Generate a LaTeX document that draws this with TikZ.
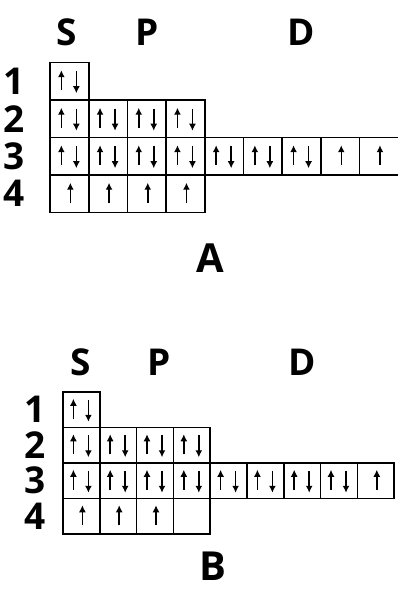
\documentclass[tikz,border=0pt]{standalone}
\usepackage{fontspec}
\setmainfont{Open Sans}
\usetikzlibrary{positioning,arrows.meta}

\begin{document}
\begin{tikzpicture}[
    x=1pt, y=1pt,
    orb/.style={rectangle, draw, line width=1.6pt, minimum width=38.7pt, minimum height=37.5pt, inner sep=0pt},
    orbB/.style={orb, minimum width=36.8pt, minimum height=35.5pt},
    el/.style={-{Latex[length=7pt,width=7pt]}, line width=1.5pt},
    lbl/.style={inner sep=0pt, font=\fontsize{37}{40}\selectfont\bfseries},
    tag/.style={inner sep=0pt, font=\fontsize{40}{44}\selectfont\bfseries},
    pair/.pic={\draw[el] (-8,-9) -- (-8,11); \draw[el] (7,10) -- (7,-12);},
    single/.pic={\draw[el] (1,-9) -- (1,11);}
]
    \useasboundingbox (0,0) rectangle (397,-593);

    % configuration A
    \foreach \r/\n in {1/1,2/4,3/9,4/4}
        \foreach \c in {1,...,\n}
            \node[orb] (a\r\c) at ({69.35+(\c-1)*38.7}, {-81.25-(\r-1)*37.5}) {};
    \foreach \b in {a11,a21,a22,a23,a24,a31,a32,a33,a34,a35,a36,a37}
        \pic at (\b) {pair};
    \foreach \b in {a38,a39,a41,a42,a43,a44}
        \pic at (\b) {single};

    \node[lbl] (sA) at (67,-32) {S};
    \node[lbl] (pA) at (a23 |- sA) {P};
    \node[lbl] (dA) at (a37 |- sA) {D};
    \foreach \r in {1,...,4}
        \node[lbl, left=24pt of a\r1] (nA\r) {\r};
    \node[tag] (tagA) at (210,-258) {A};

    % configuration B
    \foreach \r/\n in {1/1,2/4,3/9,4/4}
        \foreach \c in {1,...,\n}
            \node[orbB] (b\r\c) at ({81.4+(\c-1)*36.8}, {-409.75-(\r-1)*35.5}) {};
    \foreach \b in {b11,b21,b22,b23,b24,b31,b32,b33,b34,b35,b36,b37,b38}
        \pic at (\b) {pair};
    \foreach \b in {b39,b41,b42,b43}
        \pic at (\b) {single};

    \node[lbl] (sB) at (81,-362) {S};
    \node[lbl] (pB) at (159,-362) {P};
    \node[lbl] (dB) at (b37 |- sB) {D};
    \foreach \r in {1,...,4}
        \node[lbl, left=16pt of b\r1] (nB\r) {\r};
    \node[tag] (tagB) at (213,-566) {B};
\end{tikzpicture}
\end{document}
